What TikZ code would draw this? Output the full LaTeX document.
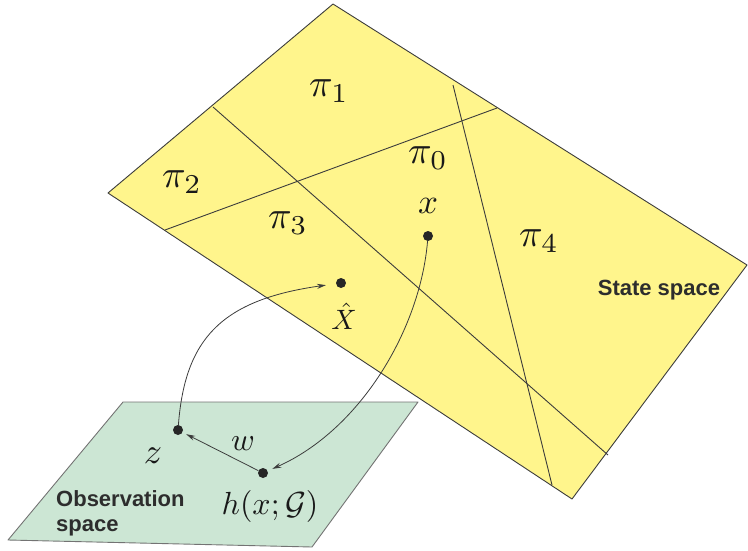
\documentclass[tikz,border=0pt]{standalone}
\usepackage{fontspec}
\usepackage{graphicx}
\newfontfamily\labfont{Liberation Sans}
\usetikzlibrary{arrows.meta}
\definecolor{stateyellow}{RGB}{255,245,140}
\definecolor{obsgreen}{RGB}{204,230,212}
\definecolor{edgegray}{RGB}{60,60,60}
\definecolor{labgray}{RGB}{45,45,45}
\newcommand{\mlab}[2][3.4]{\scalebox{#1}{$#2$}}
\tikzset{
  plane/.style={draw=edgegray, line width=0.9pt, line join=round},
  partline/.style={draw=edgegray, line width=0.9pt},
  dot/.style={circle, fill=black!85, inner sep=0pt, minimum size=10pt},
  mathlab/.style={text=black!90, inner sep=0pt},
  spacelab/.style={font=\labfont\bfseries\fontsize{22}{25}\selectfont, text=labgray, inner sep=0pt, align=left},
  arr/.style={draw=edgegray, line width=0.8pt, -{Stealth[length=9pt,width=5pt]}},
}
\begin{document}
\begin{tikzpicture}[x=1pt,y=-1pt]
\useasboundingbox (0,0) rectangle (748,550);
% state space
\coordinate (sT) at (333,4);
\coordinate (sL) at (108,193);
\coordinate (sR) at (747,265);
\coordinate (sB) at (572,499);
\fill[stateyellow] (sT) -- (sR) -- (sB) -- (sL) -- cycle;
\draw[plane] (sT) -- (sR) -- (sB) -- (sL) -- cycle;
% partition lines
\draw[partline] (213,107) -- (608,455);
\draw[partline] (165,230) -- (497,108);
\draw[partline] (453,85) -- (552,485);
% observation space
\coordinate (oTL) at (123,402);
\coordinate (oTR) at (418,402);
\coordinate (oBR) at (312,547);
\coordinate (oBL) at (8,540);
\fill[obsgreen] (oTL) -- (oTR) -- (oBR) -- (oBL) -- cycle;
\draw[plane, draw=black!55] (oTL) -- (oTR) -- (oBR) -- (oBL) -- cycle;
% labels
\node[mathlab] (p1) at (329,91) {\mlab[3.9]{\pi_1}};
\node[mathlab] (p2) at (182,182) {\mlab[3.9]{\pi_2}};
\node[mathlab] (p0) at (428,158) {\mlab[3.9]{\pi_0}};
\node[mathlab] (p3) at (288,223) {\mlab[3.9]{\pi_3}};
\node[mathlab] (p4) at (539,241) {\mlab[3.9]{\pi_4}};
\node[mathlab] (xl) at (428,206) {\mlab[3.5]{x}};
\node[mathlab] (Xl) at (344,316) {\mlab[2.8]{\hat{X}}};
\node[spacelab] (ss) at (659,290) {State space};
\node[spacelab, anchor=west] (os) at (56,513) {Observation\\space};
\node[mathlab] (zl) at (153,456) {\mlab[3.6]{z}};
\node[mathlab] (wl) at (243,444) {\mlab[3.2]{w}};
\node[mathlab] (hl) at (270,506) {\mlab[3.2]{h(x;\mathcal{G})}};
% points
\node[dot] (x) at (428,236) {};
\node[dot] (X) at (341,283) {};
\node[dot] (z) at (178,430) {};
\node[dot] (h) at (263,473) {};
% connectors
\draw[arr, shorten >=5pt] (x) .. controls (420,330) and (360,430) .. (h);
\draw[arr, shorten >=10pt] (z) .. controls (185,340) and (220,300) .. (X);
\draw[arr, shorten >=4pt] (h) -- (z);
\end{tikzpicture}
\end{document}
